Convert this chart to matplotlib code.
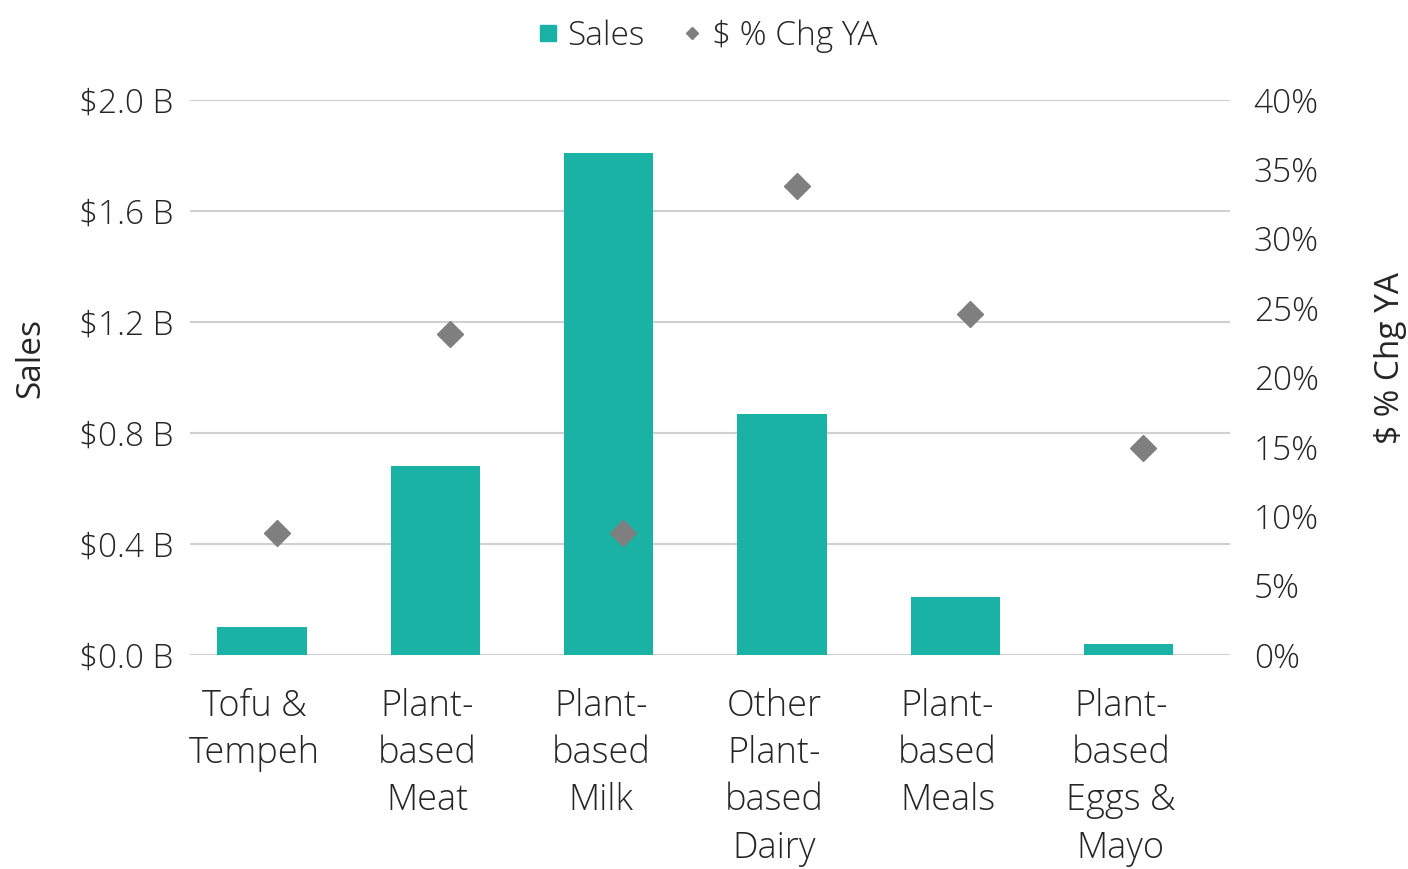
import matplotlib.pyplot as plt
import numpy as np
from matplotlib.lines import Line2D

plt.rcParams['font.family'] = ['Open Sans', 'DejaVu Sans']
plt.rcParams['font.weight'] = 'light'

# Plant-based category sales ($B) and dollar % change vs year ago
categories = ['Tofu &\nTempeh', 'Plant-\nbased\nMeat', 'Plant-\nbased\nMilk',
              'Other\nPlant-\nbased\nDairy', 'Plant-\nbased\nMeals',
              'Plant-\nbased\nEggs &\nMayo']
sales = [0.10, 0.68, 1.81, 0.87, 0.21, 0.04]
pct_chg = [8.8, 23.1, 8.8, 33.8, 24.6, 14.9]

teal = '#1AB2A5'
gray = '#7F7F7F'
text_col = '#262626'

fig = plt.figure(figsize=(14.08, 8.69), dpi=100)
ax = fig.add_axes([0.135, 0.2463, 0.7386, 0.6387])
ax2 = ax.twinx()

x = np.arange(len(categories))
ax.bar(x - 0.085, sales, width=0.515, color=teal, zorder=2)
ax2.plot(x, pct_chg, linestyle='none', marker='D', markersize=13,
         color=gray, zorder=3)

ax.set_xlim(-0.5, len(categories) - 0.5)
ax.set_ylim(0, 2.0)
ax2.set_ylim(0, 40)

ax.set_yticks(np.arange(0, 2.01, 0.4))
ax.set_yticklabels([f'${v:.1f} B' for v in np.arange(0, 2.01, 0.4)])
ax2.set_yticks(np.arange(0, 41, 5))
ax2.set_yticklabels([f'{v}%' for v in range(0, 41, 5)])

ax.set_xticks(x - 0.13)
ax.set_xticklabels(categories, linespacing=1.36)

ax.grid(axis='y', color='#D0D0D0', linewidth=1.5, zorder=0)
ax.set_axisbelow(True)
for a in (ax, ax2):
    for s in a.spines.values():
        s.set_visible(False)
    a.tick_params(length=0, colors=text_col, labelsize=24)
ax.tick_params(axis='y', pad=12)
ax.tick_params(axis='x', pad=24, labelsize=26)
ax2.tick_params(axis='y', pad=17)

ax.set_ylabel('Sales', fontsize=24, color=text_col, labelpad=23)
ax2.set_ylabel('$ % Chg YA', fontsize=24, color=text_col, labelpad=40)
ax.yaxis.label.set_y(0.535)
ax2.yaxis.label.set_y(0.535)

handles = [
    Line2D([], [], linestyle='none', marker='s', markersize=12, color=teal),
    Line2D([], [], linestyle='none', marker='D', markersize=6, color=gray),
]
fig.legend(handles, ['Sales', '$ % Chg YA'], loc='upper center',
           bbox_to_anchor=(0.5, 1.012), ncol=2, frameon=False, fontsize=24,
           handletextpad=0.1, columnspacing=0.9, handlelength=1.0,
           labelcolor=text_col)

fig.savefig('out.png', dpi=100)
